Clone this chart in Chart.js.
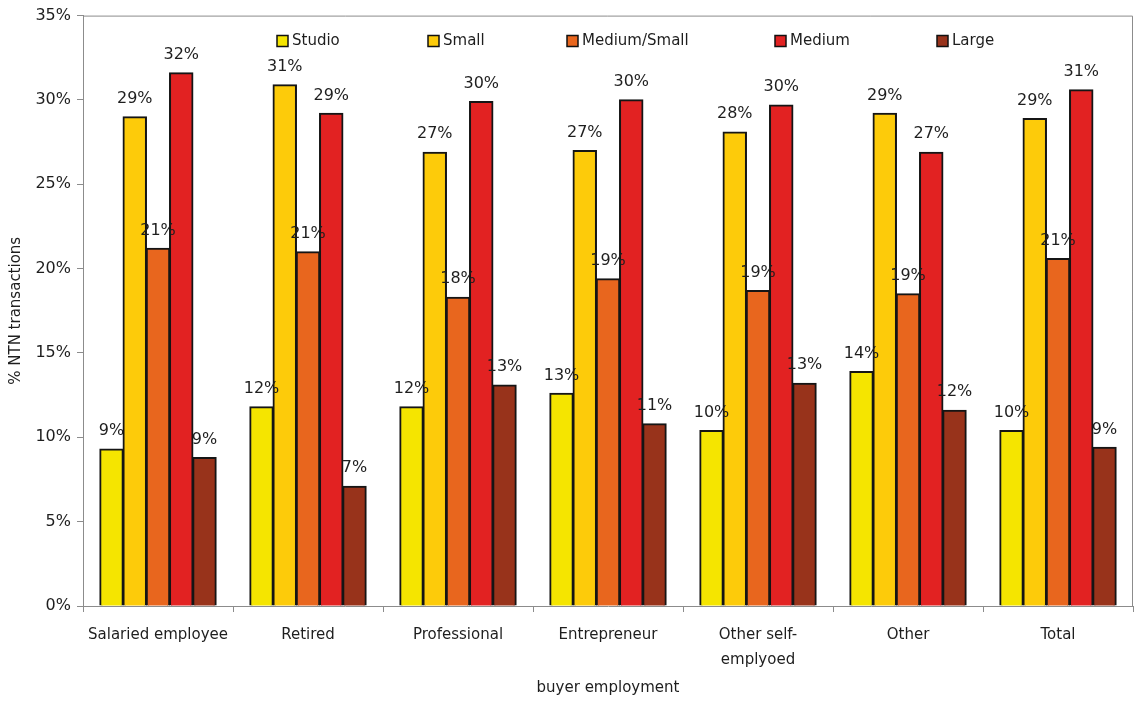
<!DOCTYPE html>
<html>
<head>
<meta charset="utf-8">
<script src="https://cdn.jsdelivr.net/npm/chart.js@4.4.1/dist/chart.umd.min.js"></script>
<style>
  html, body { margin: 0; padding: 0; background: #fff; }
  #wrap { width: 1134px; height: 701px; position: relative; }
</style>
</head>
<body>
<div id="wrap"><canvas id="c"></canvas></div>
<script>
// Buyer employment categories (x axis)
const categories = ['Salaried employee', 'Retired', 'Professional', 'Entrepreneur', ['Other self-', 'emplyoed'], 'Other', 'Total'];
// Dwelling size classes (series)
const seriesNames = ['Studio', 'Small', 'Medium/Small', 'Medium', 'Large'];
// Share of NTN transactions, in percent
const studio      = [9.3, 11.8, 11.8, 12.6, 10.4, 13.9, 10.4];
const small       = [29.0, 30.9, 26.9, 27.0, 28.1, 29.2, 28.9];
const mediumSmall = [21.2, 21.0, 18.3, 19.4, 18.7, 18.5, 20.6];
const medium      = [31.6, 29.2, 29.9, 30.0, 29.7, 26.9, 30.6];
const large       = [8.8, 7.1, 13.1, 10.8, 13.2, 11.6, 9.4];
// Y axis ticks, in percent
const yTicks = [0, 5, 10, 15, 20, 25, 30, 35];

const seriesValues = [studio, small, mediumSmall, medium, large];
const seriesColors = ['#F5E500', '#FDCB0A', '#E8661E', '#E22222', '#98331B'];
const FONT = 'DejaVu Sans';
const TEXT = '#1e1e1e';
const AXIS = '#8c8c8c';

// Value labels above each bar
const valueLabels = {
  id: 'valueLabels',
  afterDatasetsDraw(chart) {
    const ctx = chart.ctx;
    ctx.save();
    ctx.font = '16px "' + FONT + '"';
    ctx.fillStyle = TEXT;
    ctx.textAlign = 'center';
    ctx.textBaseline = 'middle';
    chart.data.datasets.forEach((ds, i) => {
      const meta = chart.getDatasetMeta(i);
      meta.data.forEach((bar, j) => {
        ctx.fillText(Math.round(ds.data[j]) + '%', bar.x, bar.y - 18);
      });
    });
    ctx.restore();
  }
};

// Legend row inside the plot area, plus the top/right frame
const legendSpots = [277, 428, 567, 775, 937];
const legendRow = {
  id: 'legendRow',
  afterDraw(chart) {
    const ctx = chart.ctx;
    const area = chart.chartArea;
    ctx.save();
    ctx.strokeStyle = AXIS;
    ctx.lineWidth = 1;
    ctx.beginPath();
    ctx.moveTo(area.left, area.top + 0.5);
    ctx.lineTo(area.right - 0.5, area.top + 0.5);
    ctx.lineTo(area.right - 0.5, area.bottom);
    ctx.stroke();

    ctx.font = '15px "' + FONT + '"';
    ctx.textBaseline = 'middle';
    ctx.textAlign = 'left';
    const cy = 41;
    chart.data.datasets.forEach((ds, i) => {
      const x = legendSpots[i];
      ctx.fillStyle = ds.backgroundColor;
      ctx.fillRect(x, cy - 5.5, 11, 11);
      ctx.strokeStyle = '#111';
      ctx.lineWidth = 1.5;
      ctx.strokeRect(x, cy - 5.5, 11, 11);
      ctx.fillStyle = TEXT;
      ctx.fillText(ds.label, x + 15, cy);
    });
    ctx.restore();
  }
};

new Chart(document.getElementById('c'), {
  type: 'bar',
  data: {
    labels: categories,
    datasets: seriesNames.map((name, i) => ({
      label: name,
      data: seriesValues[i],
      backgroundColor: seriesColors[i],
      borderColor: '#151515',
      borderWidth: 2,
      borderSkipped: 'bottom',
      inflateAmount: 0.6,
      categoryPercentage: 0.775,
      barPercentage: 1.0
    }))
  },
  options: {
    responsive: true,
    maintainAspectRatio: false,
    devicePixelRatio: 1,
    animation: false,
    layout: { padding: { top: 15, right: 1, left: 0, bottom: 0 } },
    plugins: {
      legend: { display: false },
      tooltip: { enabled: false }
    },
    scales: {
      x: {
        grid: { drawOnChartArea: false, tickLength: 6, color: AXIS, offset: true },
        border: { color: AXIS },
        ticks: {
          autoSkip: false, maxRotation: 0, color: TEXT, padding: 10,
          font: { family: FONT, size: 15, lineHeight: 1.7 }
        },
        title: {
          display: true, text: 'buyer employment', color: TEXT,
          font: { family: FONT, size: 15 }, padding: { top: 0, bottom: 4 }
        },
        afterFit(scale) { scale.height = 95; }
      },
      y: {
        min: 0, max: 35,
        afterBuildTicks(scale) { scale.ticks = yTicks.map(v => ({ value: v })); },
        grid: { drawOnChartArea: false, tickLength: 6, color: AXIS },
        border: { color: AXIS },
        ticks: {
          color: TEXT, padding: 6,
          font: { family: FONT, size: 16 },
          callback: v => v + '%'
        },
        title: {
          display: true, text: '% NTN transactions', color: TEXT,
          font: { family: FONT, size: 15 }, padding: { top: 7, bottom: 0 }
        },
        afterFit(scale) { scale.width = 83; }
      }
    }
  },
  plugins: [valueLabels, legendRow]
});
</script>
</body>
</html>
